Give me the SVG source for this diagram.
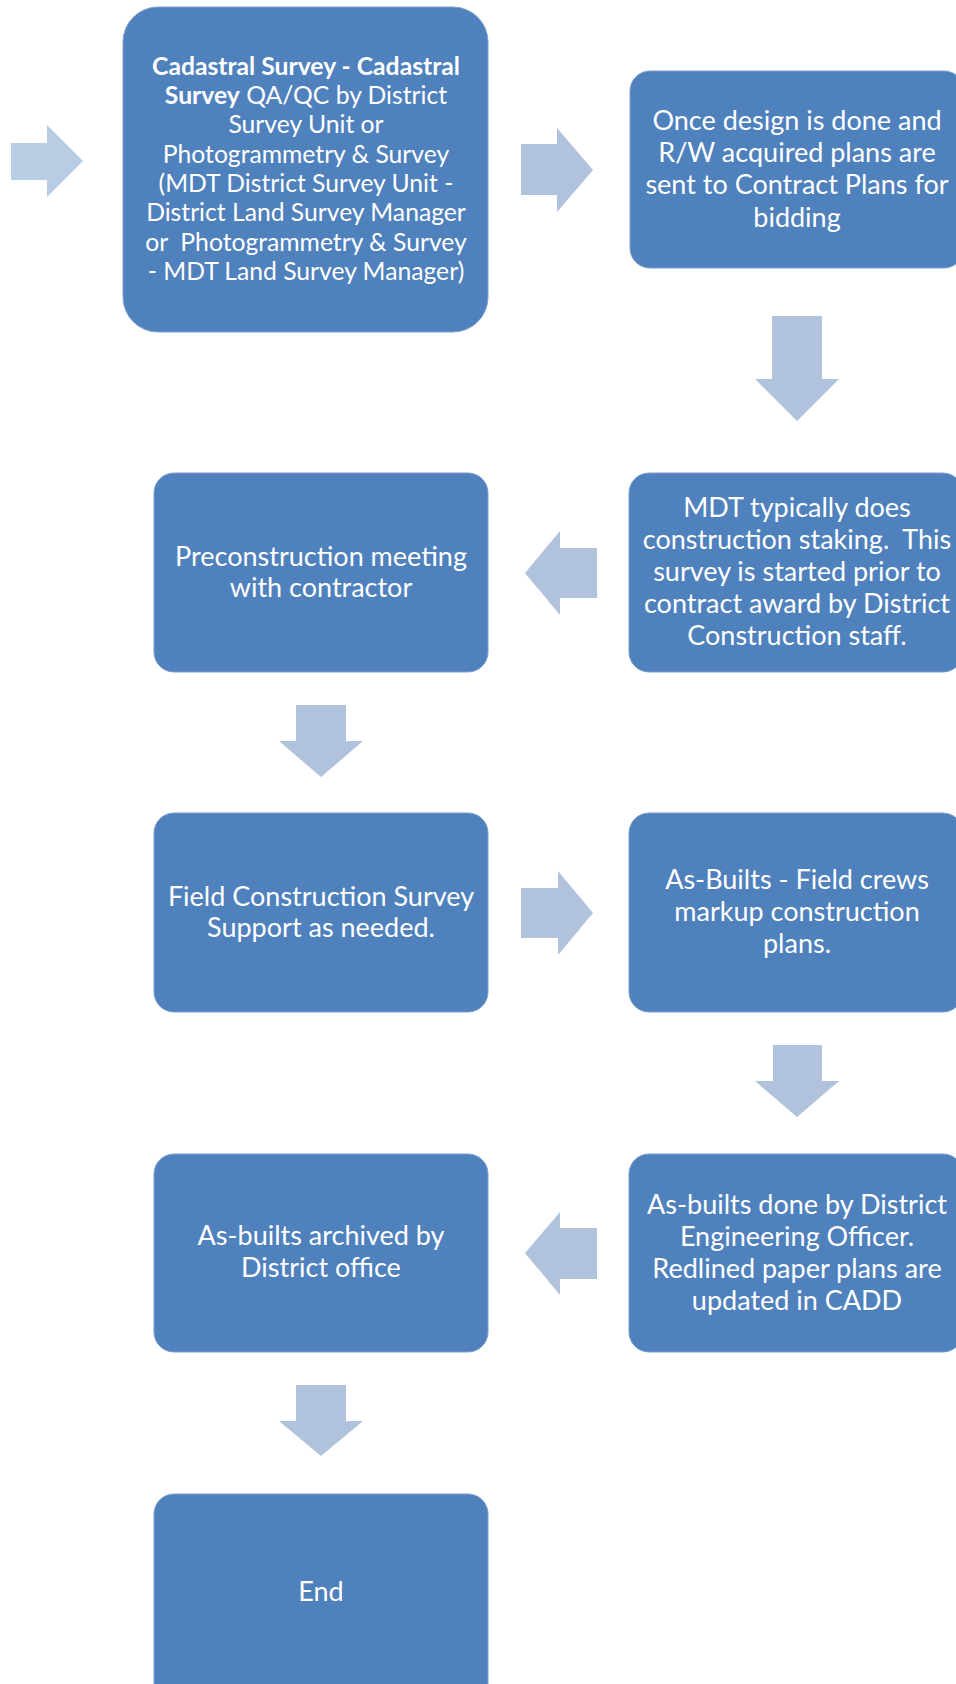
<svg xmlns="http://www.w3.org/2000/svg" width="956" height="1684" viewBox="0 0 956 1684">
  <style>
    .box { fill: #4f81bd; stroke: #7c9fcd; stroke-width: 1; }
    .lbl { font-family: Lato, "Open Sans", "Liberation Sans", sans-serif; font-size: 27px; fill: #ffffff; text-anchor: middle; }
    .lbl1 { font-size: 24.7px; }
    .b { font-weight: bold; }
    .arr { fill: #b0c2dc; }
    .arr0 { fill: #b8cce4; }
  </style>
  <rect width="956" height="1684" fill="#ffffff"/>

  <!-- block arrows between the steps -->
  <g id="connectors">
    <polygon class="arr0" points="11,143 47,143 47,125 83,161 47,197 47,180 11,180"/>
    <polygon class="arr" points="521,144 557,144 557,128 593,170 557,212 557,195 521,195"/>
    <polygon class="arr" points="772,316 822,316 822,379 839,379 797,421 755,379 772,379"/>
    <polygon class="arr" points="597,548 560,548 560,531 525,573 560,615 560,598 597,598"/>
    <polygon class="arr" points="296,705 346,705 346,741 363,741 321,777 279,741 296,741"/>
    <polygon class="arr" points="521,888 558,888 558,871 593,913 558,955 558,938 521,938"/>
    <polygon class="arr" points="773,1045 822,1045 822,1081 839,1081 797,1117 755,1081 773,1081"/>
    <polygon class="arr" points="597,1228 560,1228 560,1212 525,1253 560,1295 560,1279 597,1279"/>
    <polygon class="arr" points="296,1385 346,1385 346,1421 363,1421 321,1456 279,1421 296,1421"/>
  </g>

  <g id="cadastral">
    <rect class="box" x="123" y="7" width="365" height="325" rx="35"/>
    <text class="lbl lbl1" x="306" y="75"><tspan class="b">Cadastral Survey - Cadastral</tspan></text>
    <text class="lbl lbl1" x="306" y="104"><tspan class="b">Survey</tspan> QA/QC by District</text>
    <text class="lbl lbl1" x="306" y="133">Survey Unit or</text>
    <text class="lbl lbl1" x="306" y="163">Photogrammetry &amp; Survey</text>
    <text class="lbl lbl1" x="306" y="192">(MDT District Survey Unit -</text>
    <text class="lbl lbl1" x="306" y="221">District Land Survey Manager</text>
    <text class="lbl lbl1" x="306" y="251" xml:space="preserve">or  Photogrammetry &amp; Survey</text>
    <text class="lbl lbl1" x="306" y="280">- MDT Land Survey Manager)</text>
  </g>

  <g id="contract-plans">
    <rect class="box" x="630" y="71" width="334" height="197" rx="20"/>
    <text class="lbl" x="797" y="130">Once design is done and</text>
    <text class="lbl" x="797" y="162">R/W acquired plans are</text>
    <text class="lbl" x="797" y="194">sent to Contract Plans for</text>
    <text class="lbl" x="797" y="227">bidding</text>
  </g>

  <g id="staking">
    <rect class="box" x="629" y="473" width="334" height="199" rx="20"/>
    <text class="lbl" x="797" y="517">MDT typically does</text>
    <text class="lbl" x="797" y="549" xml:space="preserve">construction staking.  This</text>
    <text class="lbl" x="797" y="581">survey is started prior to</text>
    <text class="lbl" x="797" y="613">contract award by District</text>
    <text class="lbl" x="797" y="645">Construction staff.</text>
  </g>

  <g id="preconstruction">
    <rect class="box" x="154" y="473" width="334" height="199" rx="20"/>
    <text class="lbl" x="321" y="566">Preconstruction meeting</text>
    <text class="lbl" x="321" y="597">with contractor</text>
  </g>

  <g id="field-support">
    <rect class="box" x="154" y="813" width="334" height="199" rx="20"/>
    <text class="lbl" x="321" y="906">Field Construction Survey</text>
    <text class="lbl" x="321" y="937">Support as needed.</text>
  </g>

  <g id="markup">
    <rect class="box" x="629" y="813" width="334" height="199" rx="20"/>
    <text class="lbl" x="797" y="889">As-Builts - Field crews</text>
    <text class="lbl" x="797" y="921">markup construction</text>
    <text class="lbl" x="797" y="953">plans.</text>
  </g>

  <g id="cadd-update">
    <rect class="box" x="629" y="1154" width="334" height="198" rx="20"/>
    <text class="lbl" x="797" y="1214">As-builts done by District</text>
    <text class="lbl" x="797" y="1246">Engineering Officer.</text>
    <text class="lbl" x="797" y="1278">Redlined paper plans are</text>
    <text class="lbl" x="797" y="1310">updated in CADD</text>
  </g>

  <g id="archived">
    <rect class="box" x="154" y="1154" width="334" height="198" rx="20"/>
    <text class="lbl" x="321" y="1245">As-builts archived by</text>
    <text class="lbl" x="321" y="1277">District office</text>
  </g>

  <g id="end">
    <rect class="box" x="154" y="1494" width="334" height="220" rx="20"/>
    <text class="lbl" x="321" y="1601">End</text>
  </g>
</svg>
